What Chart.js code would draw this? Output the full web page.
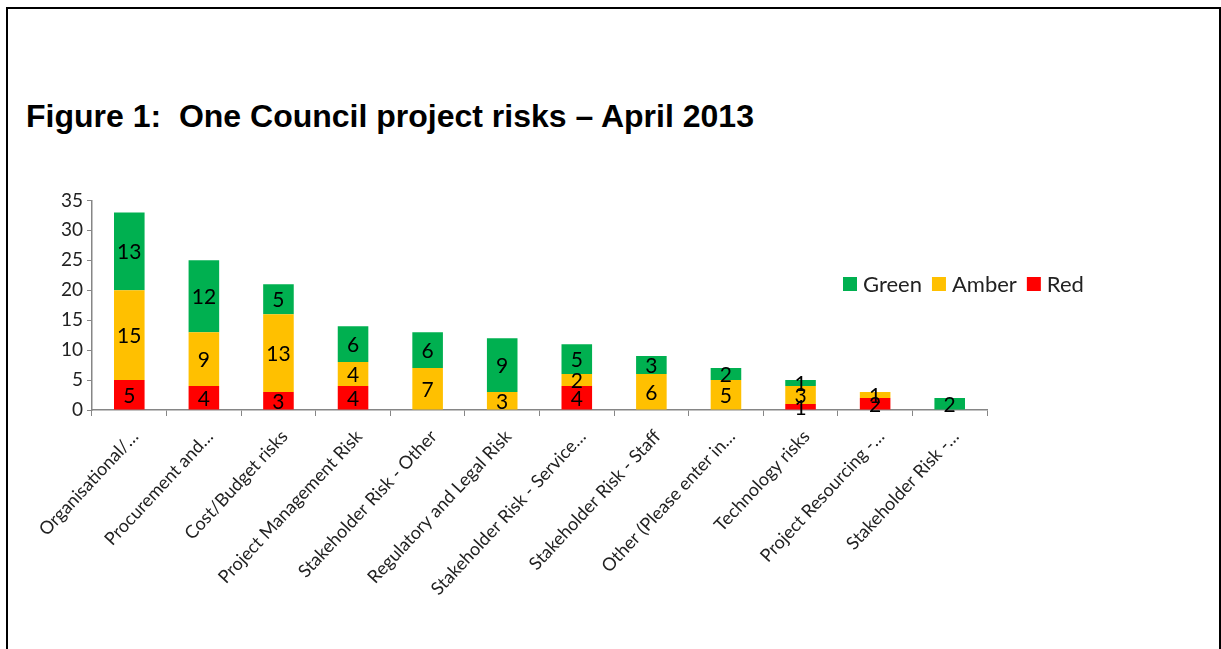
<!DOCTYPE html>
<html>
<head>
<meta charset="utf-8">
<script src="https://cdn.jsdelivr.net/npm/chart.js@4.4.1/dist/chart.umd.min.js"></script>
<style>
    body { margin: 0; background: #fff; }
    #frame {
        position: absolute; left: 6px; top: 7px; width: 1215px; height: 700px;
        box-sizing: border-box; border: 2px solid #000; border-bottom: none;
    }
    #title {
        position: absolute; left: 26px; top: 100px; margin: 0;
        font: bold 32px "Liberation Sans", Arial, sans-serif; line-height: 32px;
        white-space: pre; color: #000;
    }
    #chart { position: absolute; left: 8px; top: 185px; }
</style>
</head>
<body>
<div id="frame"></div>
<h1 id="title">Figure 1:  One Council project risks – April 2013</h1>
<canvas id="chart" width="1211" height="464"></canvas>
<script>
const categories = [
    'Organisational/…',
    'Procurement and…',
    'Cost/Budget risks',
    'Project Management Risk',
    'Stakeholder Risk - Other',
    'Regulatory and Legal Risk',
    'Stakeholder Risk - Service…',
    'Stakeholder Risk - Staff',
    'Other (Please enter in…',
    'Technology risks',
    'Project Resourcing -…',
    'Stakeholder Risk -…',
];
const redRisks = [5, 4, 3, 4, 0, 0, 4, 0, 0, 1, 2, 0];
const amberRisks = [15, 9, 13, 4, 7, 3, 2, 6, 5, 3, 1, 0];
const greenRisks = [13, 12, 5, 6, 6, 9, 5, 3, 2, 1, 0, 2];
const yTicks = [0, 5, 10, 15, 20, 25, 30, 35];

const axisGrey = '#868686';
const textColor = '#222';

// numbers inside each stacked segment
const valueLabels = {
    id: 'valueLabels',
    afterDatasetsDraw(chart) {
        const ctx = chart.ctx;
        ctx.save();
        ctx.font = '21px Lato';
        ctx.fillStyle = '#000';
        ctx.textAlign = 'center';
        ctx.textBaseline = 'middle';
        chart.data.datasets.forEach((ds, i) => {
            chart.getDatasetMeta(i).data.forEach((bar, j) => {
                const v = ds.data[j];
                if (!v) return;
                const p = bar.getCenterPoint();
                ctx.fillText(v, p.x, p.y + 1);
            });
        });
        ctx.restore();
    },
};

// horizontal legend sitting in the upper right, Green first
const sideLegend = {
    id: 'sideLegend',
    afterDraw(chart) {
        const ctx = chart.ctx;
        ctx.save();
        ctx.font = '22px Lato';
        ctx.textBaseline = 'middle';
        let x = 835;
        const y = 99;
        chart.data.datasets.slice().reverse().forEach(ds => {
            ctx.fillStyle = ds.backgroundColor;
            ctx.fillRect(x, y - 7, 14, 14);
            ctx.fillStyle = textColor;
            ctx.fillText(ds.label, x + 20, y + 1);
            x += 20 + ctx.measureText(ds.label).width + 10;
        });
        ctx.restore();
    },
};

new Chart(document.getElementById('chart'), {
    type: 'bar',
    data: {
        labels: categories,
        datasets: [
            { label: 'Red', data: redRisks, backgroundColor: '#FF0000' },
            { label: 'Amber', data: amberRisks, backgroundColor: '#FFC000' },
            { label: 'Green', data: greenRisks, backgroundColor: '#00B050' },
        ],
    },
    options: {
        responsive: false,
        animation: false,
        layout: { padding: { top: 15, right: 232, left: 0, bottom: 0 } },
        datasets: { bar: { categoryPercentage: 1, barPercentage: 0.41 } },
        plugins: { legend: { display: false }, tooltip: { enabled: false } },
        scales: {
            x: {
                stacked: true,
                afterFit: s => { s.height = 239; },
                border: { color: axisGrey, width: 1.5 },
                grid: { drawOnChartArea: false, color: axisGrey, tickLength: 6 },
                ticks: {
                    color: textColor, font: { family: 'Lato', size: 18 },
                    minRotation: 47, maxRotation: 47, autoSkip: false,
                    padding: 10, labelOffset: 6,
                },
            },
            y: {
                stacked: true,
                min: 0,
                max: 35,
                afterFit: s => { s.width = 84; },
                afterBuildTicks: s => { s.ticks = yTicks.map(v => ({ value: v })); },
                border: { color: axisGrey, width: 1.5 },
                grid: { drawOnChartArea: false, color: axisGrey, tickLength: 5 },
                ticks: { color: textColor, font: { family: 'Lato', size: 19 }, padding: 4 },
            },
        },
    },
    plugins: [valueLabels, sideLegend],
});
</script>
</body>
</html>
